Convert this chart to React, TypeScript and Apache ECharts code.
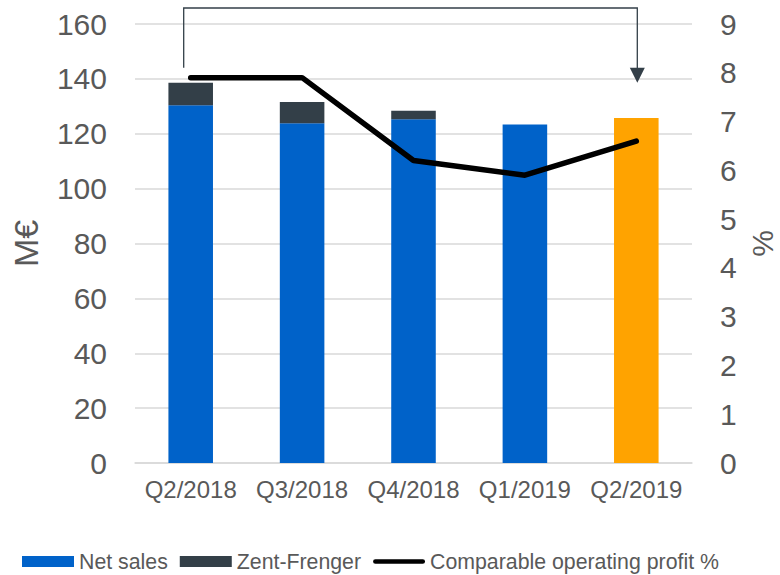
import React, { useEffect, useRef } from "react";
import * as echarts from "echarts";

const categories = ["Q2/2018", "Q3/2018", "Q4/2018", "Q1/2019", "Q2/2019"];
const netSales = [130.4, 123.8, 125.3, 123.4, 125.7];
const zentFrenger = [8.2, 7.8, 3.1, null, null];
const profitPct = [7.9, 7.9, 6.2, 5.9, 6.6];
const leftTicks = { min: 0, max: 160, interval: 20 };
const rightTicks = { min: 0, max: 9, interval: 1 };

const FONT = "Liberation Sans, Arial, sans-serif";
const GREY = "#595959";
const BLUE = "#0062C9";
const DARK = "#333F48";
const ORANGE = "#FFA300";
const LINE_ICON =
  "path://M2.5,0 L52.5,0 A2.5,2.5 0 0 1 52.5,5 L2.5,5 A2.5,2.5 0 0 1 2.5,0 Z";

export default function App() {
  const ref = useRef<HTMLDivElement>(null);
  useEffect(() => {
    if (!ref.current) return;
    const chart = echarts.init(ref.current, null, { renderer: "svg" });
    chart.setOption({
      animation: false,
      textStyle: { fontFamily: FONT },
      grid: { left: 135, right: 88, top: 24, bottom: 112, containLabel: false, outerBoundsMode: "none" },
      legend: {
        left: 22,
        top: 551,
        itemWidth: 52,
        itemHeight: 11,
        itemGap: 12,
        padding: 0,
        textStyle: { fontSize: 21.3, color: GREY, fontFamily: FONT },
        data: [
          { name: "Net sales", icon: "rect" },
          { name: "Zent-Frenger", icon: "rect" },
          { name: "Comparable operating profit %", icon: LINE_ICON, itemStyle: { color: "#000" } },
        ],
      },
      xAxis: {
        type: "category",
        data: categories,
        axisTick: { show: false },
        axisLine: { lineStyle: { color: "#d9d9d9", width: 1.5 } },
        axisLabel: { color: GREY, fontSize: 24, margin: 14, interval: 0, fontFamily: FONT },
      },
      yAxis: [
        {
          type: "value",
          ...leftTicks,
          name: "M€",
          nameLocation: "middle",
          nameRotate: 90,
          nameGap: 92,
          nameTextStyle: { fontSize: 34, color: GREY, fontFamily: FONT },
          axisLabel: { color: GREY, fontSize: 30, margin: 28, fontFamily: FONT },
          splitLine: { lineStyle: { color: "#d9d9d9", width: 1.5 } },
          axisLine: { show: false },
          axisTick: { show: false },
        },
        {
          type: "value",
          ...rightTicks,
          name: "%",
          nameLocation: "middle",
          nameRotate: 90,
          nameGap: 56,
          nameTextStyle: { fontSize: 30, lineHeight: 24, color: GREY, fontFamily: FONT },
          axisLabel: { color: GREY, fontSize: 30, margin: 28, fontFamily: FONT },
          splitLine: { show: false },
          axisLine: { show: false },
          axisTick: { show: false },
        },
      ],
      series: [
        {
          name: "Net sales",
          type: "bar",
          stack: "s",
          barWidth: "40%",
          itemStyle: { color: BLUE },
          data: netSales.map((v, i) =>
            i === netSales.length - 1 ? { value: v, itemStyle: { color: ORANGE } } : v
          ),
        },
        {
          name: "Zent-Frenger",
          type: "bar",
          stack: "s",
          barWidth: "40%",
          itemStyle: { color: DARK },
          data: zentFrenger,
        },
        {
          name: "Comparable operating profit %",
          type: "line",
          yAxisIndex: 1,
          symbol: "none",
          lineStyle: { color: "#000", width: 5.5, cap: "round", join: "round" },
          itemStyle: { color: "#000" },
          data: profitPct,
          z: 5,
        },
      ],
    });

    const x0 = (chart.convertToPixel({ xAxisIndex: 0 }, categories[0]) as number) - 7;
    const x1 = (chart.convertToPixel({ xAxisIndex: 0 }, categories[categories.length - 1]) as number) + 1;
    const total0 = netSales[0] + (zentFrenger[0] || 0);
    const yStart = (chart.convertToPixel({ yAxisIndex: 0 }, total0) as number) - 15;
    const yTop = (chart.convertToPixel({ yAxisIndex: 0 }, leftTicks.max) as number) - 16;
    const yTip = (chart.convertToPixel({ yAxisIndex: 1 }, 8) as number) + 10;
    chart.setOption({
      graphic: [
        {
          type: "polyline",
          shape: { points: [[x0, yStart], [x0, yTop], [x1, yTop], [x1, yTip - 12]] },
          style: { stroke: DARK, lineWidth: 1.3, fill: null },
          z: 10,
        },
        {
          type: "polygon",
          shape: { points: [[x1 - 7.5, yTip - 15], [x1 + 7.5, yTip - 15], [x1, yTip]] },
          style: { fill: DARK },
          z: 10,
        },
      ],
    });
    return () => chart.dispose();
  }, []);
  return (
    <div
      ref={ref}
      style={{ position: "fixed", left: 0, top: 0, width: 780, height: 575, background: "#fff" }}
    />
  );
}
